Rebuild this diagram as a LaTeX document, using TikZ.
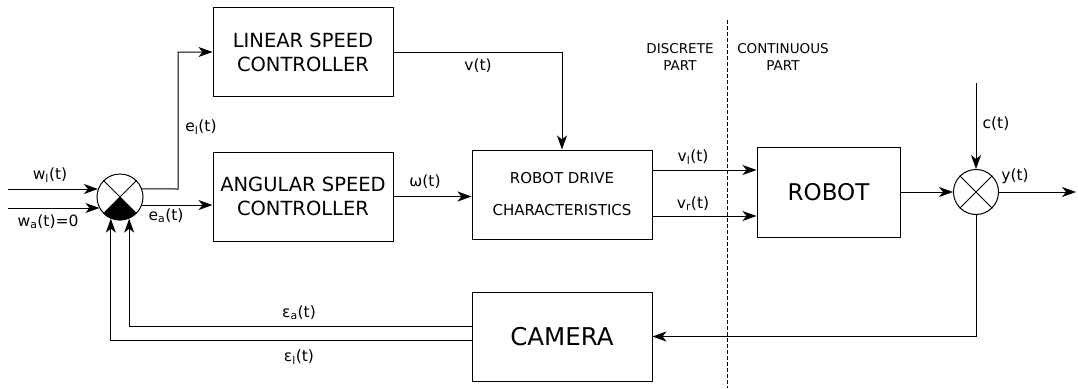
\documentclass[tikz,border=0pt]{standalone}
\usepackage{fontspec}
\setmainfont{DejaVu Sans}
\usetikzlibrary{arrows.meta,calc}
\tikzset{
  blk/.style={draw, line width=1pt, minimum width=180pt, minimum height=89pt, align=center, inner sep=0pt},
  sumc/.style={draw, circle, line width=1pt, minimum size=46pt, inner sep=0pt},
  sig/.style={line width=1pt, -{Stealth[length=14pt,width=10pt,inset=4pt]}},
  ln/.style={line width=1pt},
  lbl/.style={font=\fontsize{15.5}{18}\selectfont, inner sep=0pt},
}
\begin{document}
\begin{tikzpicture}[x=1pt,y=1pt]
\useasboundingbox (0,0) rectangle (1078,-388);
% blocks
\node[blk, font=\fontsize{19.5}{24}\selectfont] (lin) at (303,-52) {LINEAR SPEED\\CONTROLLER};
\node[blk, font=\fontsize{19.5}{24}\selectfont] (ang) at (303,-196.5) {ANGULAR SPEED\\CONTROLLER};
\node[blk, font=\fontsize{15}{32}\selectfont] (drv) at (562,-194.5) {ROBOT DRIVE\\CHARACTERISTICS};
\node[blk, minimum width=143pt, minimum height=90pt, font=\fontsize{23}{26}\selectfont] (rob) at (828.5,-192) {ROBOT};
\node[blk, minimum width=180pt, minimum height=89pt, font=\fontsize{24.5}{28}\selectfont] (cam) at (562,-336.5) {CAMERA};
% summing junctions
\node[sumc] (s1) at (120,-197) {};
\fill (s1.center) -- (s1.225) arc[start angle=225, end angle=315, radius=23pt] -- cycle;
\draw[ln] (s1.45) -- (s1.225) (s1.135) -- (s1.315);
\node[sumc, minimum size=45pt] (s2) at (976,-192) {};
\draw[ln] (s2.45) -- (s2.225) (s2.135) -- (s2.315);
% inputs
\coordinate (wl) at (8,-189);
\coordinate (wa) at (8,-208);
\draw[sig] (wl) -- (wl -| s1.160);
\draw[sig] (wa) -- (wa -| s1.209);
\node[lbl] (lwl) at (50,-175) {w\textsubscript{l}(t)};
\node[lbl] (lwa) at (48,-222) {w\textsubscript{a}(t)=0};
% e_l, e_a
\coordinate (elc) at (178,-189);
\draw[sig] (s1.20) -- (elc) |- (lin.west);
\node[lbl] (lel) at (201,-127) {e\textsubscript{l}(t)};
\draw[sig] (s1.340) -- (s1.340 -| ang.west);
\node[lbl] (lea) at (166,-216) {e\textsubscript{a}(t)};
% v, omega
\draw[sig] (lin.east) -| (drv.north);
\node[lbl] (lv) at (478,-66) {v(t)};
\draw[sig] (ang.east) -- (ang.east -| drv.west);
\node[lbl] (lw) at (425,-182) {ω(t)};
% vl vr
\coordinate (vl) at (652,-170);
\coordinate (vr) at (652,-216);
\draw[sig] (vl) -- (vl -| rob.west);
\draw[sig] (vr) -- (vr -| rob.west);
\node[lbl] (lvl) at (693,-157) {v\textsubscript{l}(t)};
\node[lbl] (lvr) at (693,-204) {v\textsubscript{r}(t)};
% robot to sum2
\draw[sig] (rob.east) -- (s2.west);
\coordinate (ct) at (976,-83);
\draw[sig] (ct) -- (s2.north);
\node[lbl] (lc) at (996,-124) {c(t)};
\coordinate (yout) at (1076,-192);
\draw[sig] (s2.east) -- (yout);
\node[lbl] (ly) at (1015,-176) {y(t)};
% feedback
\draw[sig] (s2.south) |- (cam.east);
\draw[sig] ([yshift=10.5pt]cam.west) -| (s1.293);
\draw[sig] ([yshift=-3.5pt]cam.west) -| (s1.247);
\node[lbl] (lea2) at (299,-313) {ε\textsubscript{a}(t)};
\node[lbl] (lel2) at (299,-357) {ε\textsubscript{l}(t)};
% dashed separator
\coordinate (d1) at (727,-20);
\coordinate (d2) at (727,-388);
\draw[line width=0.8pt, dash pattern=on 3.5pt off 2.5pt] (d1) -- (d2);
\node[font=\fontsize{13.5}{17}\selectfont, align=center] (disc) at (680,-57) {DISCRETE\\PART};
\node[font=\fontsize{13.5}{17}\selectfont, align=center] (cont) at (783,-57) {CONTINUOUS\\PART};
\end{tikzpicture}
\end{document}
